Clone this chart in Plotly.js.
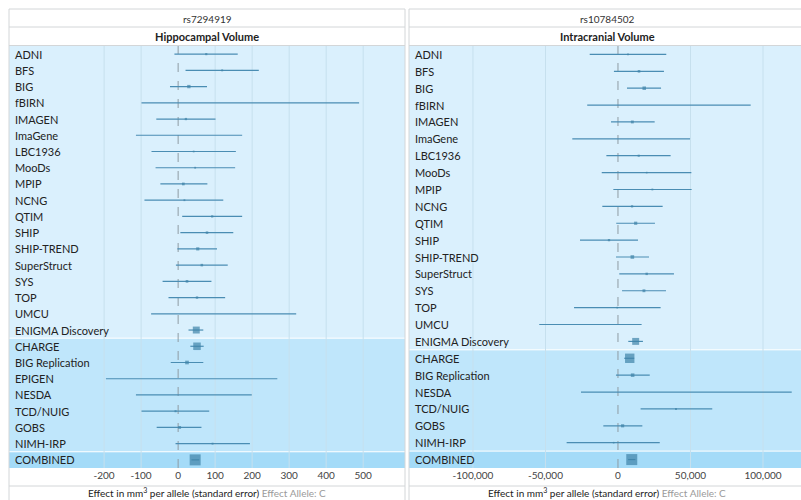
<!DOCTYPE html>
<html>
<head>
<meta charset="utf-8">
<script src="https://cdn.plot.ly/plotly-3.0.1.min.js"></script>
<style>html,body{margin:0;padding:0;background:#fff;}#chart{width:801px;height:500px;}</style>
</head>
<body>
<div id="chart"></div>
<script>
// ---------- Left panel: rs7294919 / Hippocampal Volume ----------
const leftStudies = ["ADNI","BFS","BIG","fBIRN","IMAGEN","ImaGene","LBC1936","MooDs","MPIP","NCNG","QTIM","SHIP","SHIP-TREND","SuperStruct","SYS","TOP","UMCU","ENIGMA Discovery","CHARGE","BIG Replication","EPIGEN","NESDA","TCD/NUIG","GOBS","NIMH-IRP","COMBINED"];
const leftEst = [76,119,29,195,21,30,42,46,14,17,92,78,53,64,24,51,123,49,51,24,37,42,-7,4,93,46];
const leftLo  = [-10,20,-22,-99,-59,-114,-72,-61,-48,-91,11,6,-2,-6,-42,-26,-73,28,33,-20,-195,-114,-99,-58,-7,36];
const leftHi  = [161,218,78,489,101,173,156,154,79,122,173,149,105,134,90,127,319,68,69,68,268,199,84,63,194,57];
const leftGroups = [18,7,1]; // discovery (incl. ENIGMA Discovery), replication, combined
const leftTickVals = [-200,-100,0,100,200,300,400,500];
const leftTickText = ["-200","-100","0","100","200","300","400","500"];

// ---------- Right panel: rs10784502 / Intracranial Volume ----------
const rightStudies = ["ADNI","BFS","BIG","fBIRN","IMAGEN","ImaGene","LBC1936","MooDs","MPIP","NCNG","QTIM","SHIP","SHIP-TREND","SuperStruct","SYS","TOP","UMCU","ENIGMA Discovery","CHARGE","BIG Replication","NESDA","TCD/NUIG","GOBS","NIMH-IRP","COMBINED"];
const rightEst = [6900,14500,18100,35000,9900,9000,14300,19800,23700,9700,12200,-6200,9900,19800,17900,-500,-19000,12200,8100,10100,47000,40000,3200,-3000,9500];
const rightLo  = [-19500,-2800,6200,-21200,-4800,-31500,-8000,-11200,-3200,-10800,-1200,-26200,-1400,900,2800,-30300,-54300,7100,4300,-1400,-25500,15600,-10100,-35400,7000];
const rightHi  = [33300,31700,29700,91500,25300,49700,36300,50600,50800,30800,25500,13800,21400,38600,33100,29400,16300,17200,11200,21900,119800,65000,16800,28800,12000];
const rightGroups = [18,6,1];
const rightTickVals = [-100000,-50000,0,50000,100000];
const rightTickText = ["-100,000","-50,000","0","50,000","100,000"];

const headers = [["rs7294919","Hippocampal Volume"],["rs10784502","Intracranial Volume"]];

// ---------- geometry (pixels) ----------
const W = 801, H = 500;
const px = v => v / W, py = v => (H - v) / H;
const P = [{x0:9, x1:405, range:[-457,613]}, {x0:409, x1:801, range:[-144100,126200]}];
const plotTop = 46, plotBot = 468;

const bandColors = ["#daf0fd","#bfe6fb","#a4dbf8"];
const markColor = "#3f83a8";
const lineColor = "#4a8db3";
const borderColor = "#d3d6d8";
const gridColor = "#c6e0ee";
const font = "Lato, 'Open Sans', sans-serif";

const traces = [], shapes = [], annotations = [];

function buildPanel(idx, names, est, lo, hi, groups, tickVals) {
  const xa = idx === 0 ? "x" : "x2", ya = idx === 0 ? "y" : "y2";
  const span = P[idx].range[1] - P[idx].range[0];
  const sizes = lo.map((l, i) => {
    const s = 0.5 / Math.pow((hi[i] - l) / span, 0.8);
    return s < 1.5 ? 0 : Math.min(11, s);
  });
  const idxs = names.map((_, i) => i);
  traces.push({
    type: "scatter", mode: "markers", xaxis: xa, yaxis: ya,
    x: est, y: idxs, hoverinfo: "skip",
    marker: {symbol: "square", size: sizes, color: markColor, line: {width: 0}},
    error_x: {type: "data", symmetric: false,
      array: hi.map((h, i) => h - est[i]), arrayminus: lo.map((l, i) => est[i] - l),
      width: 0, thickness: 1.2, color: lineColor}
  });
  // bands
  let start = 0;
  groups.forEach((g, gi) => {
    shapes.push({type: "rect", layer: "below", xref: xa + " domain", yref: ya,
      x0: 0, x1: 1, y0: start - 0.5, y1: start + g - 0.5,
      fillcolor: bandColors[gi], line: {width: 0}});
    if (gi > 0) {
      shapes.push({type: "line", layer: "below", xref: xa + " domain", yref: ya,
        x0: 0, x1: 1, y0: start - 0.5, y1: start - 0.5, line: {color: "#ffffff", width: 1}});
    }
    start += g;
  });
  // gridlines
  tickVals.forEach(t => {
    if (t === 0) return;
    shapes.push({type: "line", layer: "below", xref: xa, yref: ya + " domain",
      x0: t, x1: t, y0: 0, y1: 1, line: {color: gridColor, width: 1}});
  });
  // zero line
  shapes.push({type: "line", layer: "below", xref: xa, yref: ya + " domain",
    x0: 0, x1: 0, y0: 0, y1: 1, line: {color: "#8e9ba3", width: 1, dash: "dash"}});
  // row labels
  names.forEach((n, i) => {
    annotations.push({xref: "paper", yref: ya, x: px(P[idx].x0 + 4), y: i,
      xanchor: "left", yanchor: "middle", text: n, showarrow: false,
      font: {family: font, size: 11, color: "#222"}});
  });
  // headers
  const cx = idx === 0 ? px((P[0].x0 + P[0].x1) / 2) : px(607);
  annotations.push({xref: "paper", yref: "paper", x: cx, y: py(18.5), xanchor: "center", yanchor: "middle",
    text: headers[idx][0], showarrow: false, font: {family: font, size: 10, color: "#333"}});
  annotations.push({xref: "paper", yref: "paper", x: cx, y: py(36.5), xanchor: "center", yanchor: "middle",
    text: "<b>" + headers[idx][1] + "</b>", showarrow: false, font: {family: font, size: 11, color: "#222"}});
  annotations.push({xref: "paper", yref: "paper", x: cx, y: py(492.5), xanchor: "center", yanchor: "middle",
    text: "Effect in mm<sup>3</sup> per allele (standard error) <span style='color:#9a9a9a'>Effect Allele: C</span>",
    showarrow: false, font: {family: font, size: 10, color: "#222"}});
  // borders
  const x0 = P[idx].x0, x1 = idx === 0 ? P[idx].x1 : 806;
  [9, 27, 45.5, 486].forEach(yy => {
    shapes.push({type: "line", xref: "paper", yref: "paper", x0: px(x0), x1: px(x1), y0: py(yy), y1: py(yy),
      line: {color: borderColor, width: 1}});
  });
  [x0, x1].forEach(xx => {
    shapes.push({type: "line", xref: "paper", yref: "paper", x0: px(xx), x1: px(xx), y0: py(9), y1: py(500),
      line: {color: borderColor, width: 1}});
  });
}

buildPanel(0, leftStudies, leftEst, leftLo, leftHi, leftGroups, leftTickVals);
buildPanel(1, rightStudies, rightEst, rightLo, rightHi, rightGroups, rightTickVals);

const axisCommon = {showgrid: false, zeroline: false, showline: false, ticks: "", fixedrange: true,
  tickfont: {family: font, size: 10, color: "#444"}};
const yCommon = {visible: false, fixedrange: true, domain: [py(plotBot), py(plotTop)]};

const layout = {
  width: W, height: H, margin: {l: 0, r: 0, t: 0, b: 0},
  paper_bgcolor: "#ffffff", plot_bgcolor: "rgba(0,0,0,0)", showlegend: false,
  xaxis: Object.assign({}, axisCommon, {domain: [px(P[0].x0), px(P[0].x1)], range: P[0].range,
    tickvals: leftTickVals, ticktext: leftTickText, anchor: "y"}),
  yaxis: Object.assign({}, yCommon, {range: [leftStudies.length - 0.5, -0.5], anchor: "x"}),
  xaxis2: Object.assign({}, axisCommon, {domain: [px(P[1].x0), 1], range: P[1].range,
    tickvals: rightTickVals, ticktext: rightTickText, anchor: "y2"}),
  yaxis2: Object.assign({}, yCommon, {range: [rightStudies.length - 0.5, -0.5], anchor: "x2"}),
  shapes: shapes, annotations: annotations
};

Plotly.newPlot("chart", traces, layout, {displayModeBar: false, staticPlot: true});
</script>
</body>
</html>
